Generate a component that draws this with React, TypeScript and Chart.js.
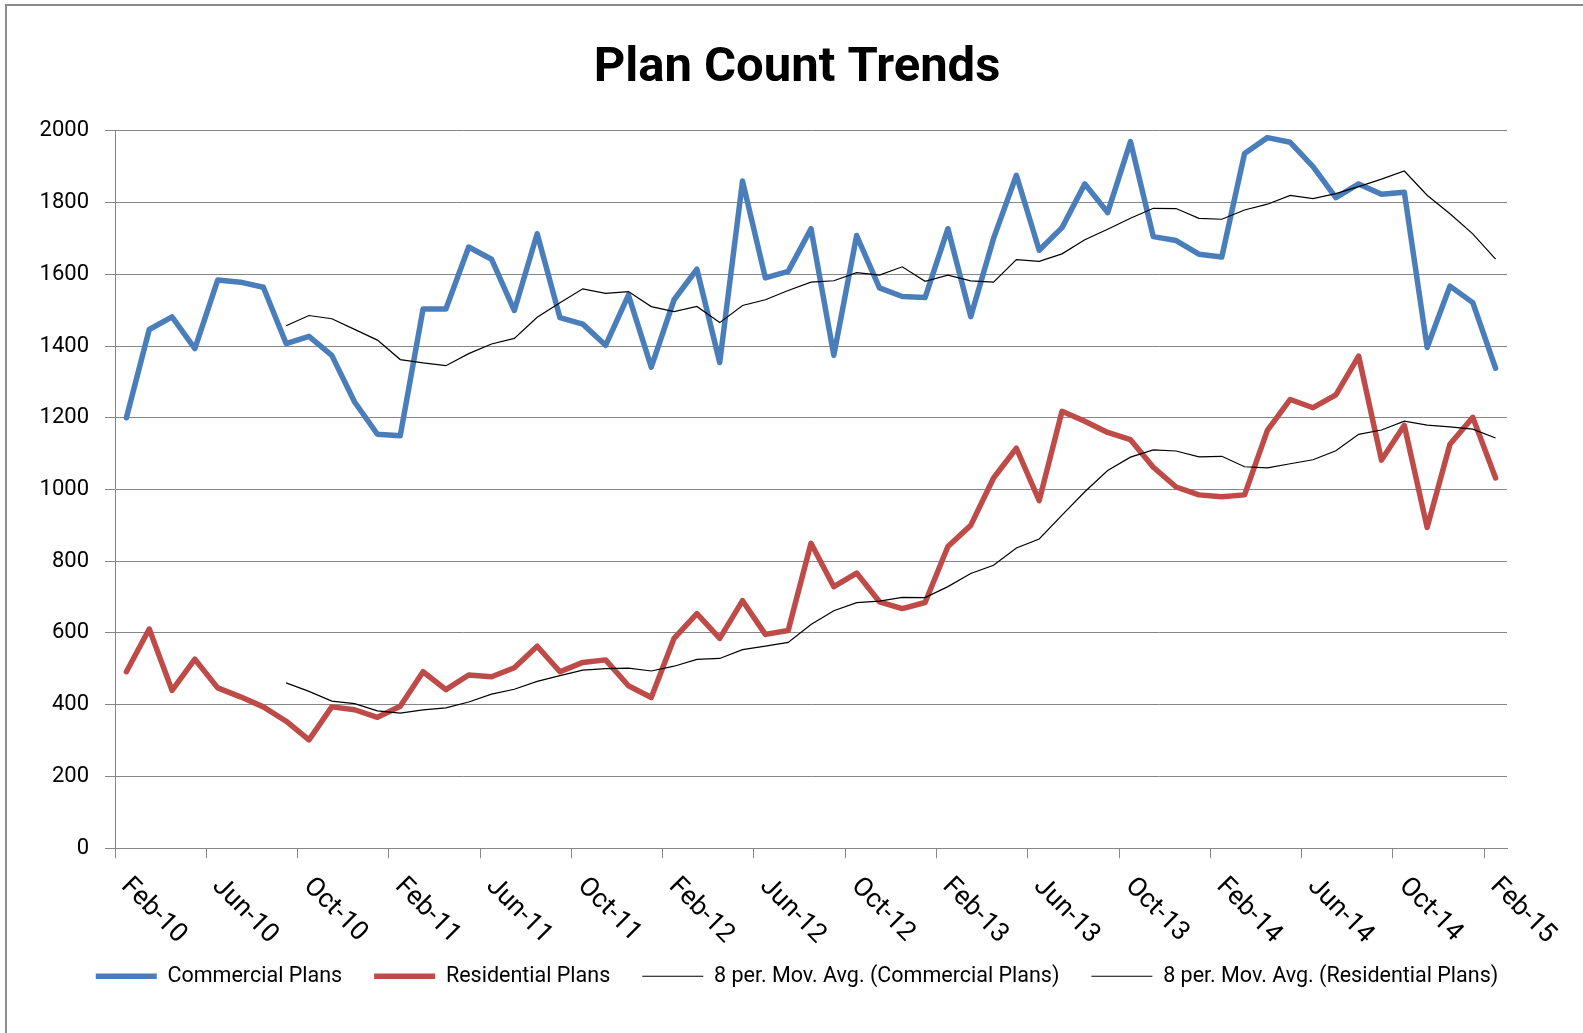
import React, { useEffect, useRef } from 'react';
import { Chart, registerables } from 'chart.js';

Chart.register(...registerables);

const categories = [
  'Feb-10','Mar-10','Apr-10','May-10','Jun-10','Jul-10','Aug-10','Sep-10','Oct-10','Nov-10','Dec-10',
  'Jan-11','Feb-11','Mar-11','Apr-11','May-11','Jun-11','Jul-11','Aug-11','Sep-11','Oct-11','Nov-11','Dec-11',
  'Jan-12','Feb-12','Mar-12','Apr-12','May-12','Jun-12','Jul-12','Aug-12','Sep-12','Oct-12','Nov-12','Dec-12',
  'Jan-13','Feb-13','Mar-13','Apr-13','May-13','Jun-13','Jul-13','Aug-13','Sep-13','Oct-13','Nov-13','Dec-13',
  'Jan-14','Feb-14','Mar-14','Apr-14','May-14','Jun-14','Jul-14','Aug-14','Sep-14','Oct-14','Nov-14','Dec-14',
  'Jan-15','Feb-15',
];

const commercialPlans = [
  1200, 1446, 1481, 1393, 1584, 1578, 1564, 1407, 1427, 1374, 1244,
  1154, 1150, 1503, 1503, 1676, 1642, 1499, 1713, 1479, 1461, 1402, 1542,
  1341, 1529, 1614, 1354, 1860, 1590, 1608, 1727, 1374, 1708, 1562, 1538,
  1535, 1727, 1482, 1700, 1876, 1667, 1730, 1852, 1772, 1970, 1705, 1694,
  1656, 1648, 1937, 1981, 1968, 1900, 1814, 1852, 1823, 1829, 1396, 1567,
  1521, 1338,
];

const residentialPlans = [
  492, 611, 440, 527, 447, 422, 394, 354, 302, 394, 386,
  365, 396, 492, 442, 483, 478, 503, 563, 492, 518, 525, 453,
  420, 585, 654, 585, 690, 596, 607, 850, 729, 767, 687, 668,
  685, 841, 900, 1032, 1115, 969, 1218, 1190, 1159, 1139, 1062, 1007,
  985, 980, 985, 1165, 1251, 1228, 1264, 1372, 1082, 1179, 894, 1126,
  1201, 1032,
];

const yTicks = [0, 200, 400, 600, 800, 1000, 1200, 1400, 1600, 1800, 2000];
const maPeriod = 8;

// Excel "8 per. Mov. Avg." trendline of the series above
function movingAverage(values: number[], period: number): (number | null)[] {
  return values.map((_, i) => {
    if (i < period - 1) return null;
    let s = 0;
    for (let k = i - period + 1; k <= i; k++) s += values[k];
    return s / period;
  });
}

const FONT = 'Roboto';

const xLabelPlugin = {
  id: 'xLabelPlugin',
  afterDraw(chart: any) {
    const xs = chart.scales.x;
    const ctx = chart.ctx;
    const half = (xs.getPixelForValue(1) - xs.getPixelForValue(0)) / 2;
    ctx.save();
    ctx.font = `26.5px ${FONT}`;
    ctx.fillStyle = '#000';
    ctx.textAlign = 'left';
    ctx.textBaseline = 'middle';
    categories.forEach((lab, i) => {
      if (i % 4 !== 0) return;
      const px = xs.getPixelForValue(i) - half;
      ctx.save();
      ctx.translate(px + 10, xs.top + 34);
      ctx.rotate(Math.PI / 4);
      ctx.fillText(lab, 0, 0);
      ctx.restore();
    });
    ctx.restore();
  },
};

export default function App() {
  const ref = useRef<HTMLCanvasElement | null>(null);

  useEffect(() => {
    if (!ref.current) return;
    const chart = new Chart(ref.current, {
      type: 'line',
      data: {
        labels: categories,
        datasets: [
          {
            label: 'Commercial Plans',
            data: commercialPlans,
            borderColor: '#4A7EBB',
            backgroundColor: '#4A7EBB',
            borderWidth: 5.5,
            pointRadius: 0,
            tension: 0,
            borderJoinStyle: 'round',
            borderCapStyle: 'round',
            order: 1,
          },
          {
            label: 'Residential Plans',
            data: residentialPlans,
            borderColor: '#BE4B48',
            backgroundColor: '#BE4B48',
            borderWidth: 5.5,
            pointRadius: 0,
            tension: 0,
            borderJoinStyle: 'round',
            borderCapStyle: 'round',
            order: 1,
          },
          {
            label: '8 per. Mov. Avg. (Commercial Plans)',
            data: movingAverage(commercialPlans, maPeriod),
            borderColor: '#000000',
            backgroundColor: '#000000',
            borderWidth: 1.2,
            pointRadius: 0,
            tension: 0,
            order: 0,
          },
          {
            label: '8 per. Mov. Avg. (Residential Plans)',
            data: movingAverage(residentialPlans, maPeriod),
            borderColor: '#000000',
            backgroundColor: '#000000',
            borderWidth: 1.2,
            pointRadius: 0,
            tension: 0,
            order: 0,
          },
        ],
      } as any,
      options: {
        responsive: false,
        animation: false,
        devicePixelRatio: 1,
        layout: { padding: { left: 11, right: 0, top: 0, bottom: 36 } },
        plugins: {
          title: {
            display: true,
            text: 'Plan Count Trends',
            color: '#000',
            font: { family: FONT, size: 49, weight: 'bold' },
            padding: { top: 39, bottom: 33 },
          },
          legend: {
            display: true,
            position: 'bottom',
            labels: {
              usePointStyle: true,
              pointStyle: 'line',
              pointStyleWidth: 61,
              color: '#000',
              font: { family: FONT, size: 21.5 },
              padding: 32,
              sort: (a: any, b: any) => a.datasetIndex - b.datasetIndex,
            },
          },
          tooltip: { enabled: false },
        },
        scales: {
          x: {
            type: 'category',
            offset: true,
            grid: {
              offset: true,
              drawOnChartArea: false,
              drawTicks: true,
              tickLength: 10,
              lineWidth: 1,
              color: (c: any) => (c.index !== undefined && c.index % 4 === 0 ? '#868686' : 'rgba(0,0,0,0)'),
            },
            border: { color: '#868686', width: 1 },
            ticks: { display: false, autoSkip: false },
            afterFit: (s: any) => { s.height = 85.3; },
          },
          y: {
            min: 0,
            max: 2000,
            afterBuildTicks: (s: any) => { s.ticks = yTicks.map((v) => ({ value: v })); },
            ticks: {
              color: '#000',
              font: { family: FONT, size: 22 },
              padding: 16,
              callback: (v: any) => String(v),
            },
            grid: { color: '#868686', lineWidth: 1, tickLength: 10, drawTicks: true },
            border: { color: '#868686', width: 1 },
            afterFit: (s: any) => { s.width = 104; },
          },
          y2: {
            type: 'linear',
            position: 'right',
            display: true,
            grid: { display: false, drawTicks: false },
            border: { display: false },
            ticks: { display: false },
            afterFit: (s: any) => { s.width = 76; },
          },
        },
      } as any,
      plugins: [xLabelPlugin],
    });
    return () => chart.destroy();
  }, []);

  return (
    <div style={{ position: 'fixed', left: 0, top: 0, width: 1583, height: 1033, background: '#fff' }}>
      <canvas ref={ref} width={1583} height={1033} style={{ position: 'absolute', left: 0, top: 0, display: 'block' }} />
      <div
        style={{
          position: 'absolute', left: 5, top: 4, width: 1578, height: 1029,
          borderTop: '2px solid #8c8c8c', borderLeft: '2px solid #8c8c8c',
          boxSizing: 'border-box', pointerEvents: 'none',
        }}
      />
    </div>
  );
}
